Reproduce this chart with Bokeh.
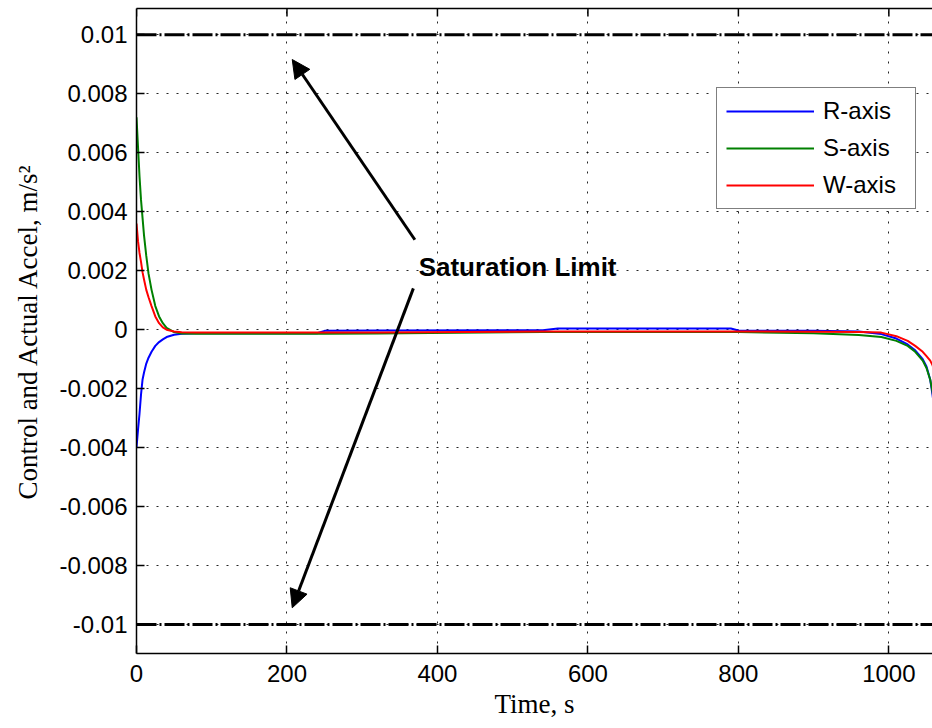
from bokeh.plotting import figure
from bokeh.models import (Range1d, FixedTicker, LinearAxis, Span, Arrow,
                          NormalHead, Label, Legend, LegendItem, ColumnDataSource)
from bokeh.embed import file_html
from bokeh.resources import INLINE

# Time samples (s) and accelerations (m/s^2) for each axis
time_s = [0, 2, 4, 6, 8, 10, 13, 16, 20, 25, 30, 35, 40, 50, 60, 80, 150, 240,
          250, 320, 540, 560, 790, 800, 900, 960, 990, 1010, 1025, 1035, 1045,
          1050, 1055, 1058, 1062]
r_axis = [-0.0040, -0.0034, -0.00285, -0.0022, -0.0017, -0.00145, -0.00115,
          -0.00095, -0.00075, -0.00055, -0.00042, -0.00033, -0.00025, -0.00017,
          -0.00014, -0.00012, -0.00012, -0.00012, -0.00004, -0.00003, -0.00002,
          0.00004, 0.00004, -0.00003, -0.00004, -0.00006, -0.00015, -0.0003,
          -0.0005, -0.0007, -0.0010, -0.00125, -0.0017, -0.0022, -0.0030]
s_axis = [0.0072, 0.0062, 0.0052, 0.0044, 0.0038, 0.0032, 0.0025, 0.0019,
          0.00135, 0.0008, 0.00045, 0.00022, 0.00006, -0.00008, -0.00013,
          -0.00014, -0.00014, -0.00014, -0.00014, -0.00013, -0.00008, -0.00008,
          -0.00008, -0.00008, -0.00012, -0.00018, -0.00025, -0.00038, -0.00055,
          -0.00075, -0.00105, -0.0013, -0.0017, -0.0021, -0.0028]
w_axis = [0.0036, 0.0030, 0.0026, 0.0023, 0.00195, 0.0017, 0.00135, 0.0011,
          0.0008, 0.00045, 0.00022, 0.00008, 0.0, -0.00006, -0.00009, -0.0001,
          -0.0001, -0.0001, -0.0001, -0.0001, -0.00006, -0.00006, -0.00006,
          -0.00006, -0.00007, -0.00008, -0.0001, -0.00022, -0.00038, -0.00055,
          -0.00075, -0.0009, -0.00105, -0.0012, -0.0015]

series_names = ["R-axis", "S-axis", "W-axis"]
series_colors = ["#0000ff", "#008000", "#ff0000"]

saturation_limit = 0.01

x_ticks = [0, 200, 400, 600, 800, 1000]
y_ticks = [-0.01, -0.008, -0.006, -0.004, -0.002, 0.0,
           0.002, 0.004, 0.006, 0.008, 0.01]
y_tick_labels = ["-0.01", "-0.008", "-0.006", "-0.004", "-0.002", "0",
                 "0.002", "0.004", "0.006", "0.008", "0.01"]

# Annotation: arrows from the label to both limits
note_text = "Saturation Limit"
note_pos = (375, 0.00211)
arrow_tails = [(370, 0.00305), (368, 0.00140)]
arrow_heads = [(207, 0.00916), (207, -0.00943)]

x_lo, x_hi = 0, 1058
y_lo, y_hi = -0.01098, 0.01089
frame_h_px = 645
tick_len_px = 8

source = ColumnDataSource(dict(t=time_s, r=r_axis, s=s_axis, w=w_axis))

p = figure(width=932, height=728, output_backend="svg", toolbar_location=None,
           x_range=Range1d(x_lo, x_hi), y_range=Range1d(y_lo, y_hi),
           min_border_left=136, min_border_right=0, min_border_top=8,
           min_border_bottom=75, background_fill_color="white",
           border_fill_color="white", outline_line_color=None)

sans = "Liberation Sans"
serif = "Liberation Serif"

for ax in (p.xaxis[0], p.yaxis[0]):
    ax.axis_line_color = "black"
    ax.axis_line_width = 1.5
    ax.major_tick_line_color = "black"
    ax.major_tick_line_width = 1.5
    ax.major_tick_in = tick_len_px
    ax.major_tick_out = 0
    ax.minor_tick_line_color = None
    ax.major_label_text_font = sans
    ax.major_label_text_font_size = "24px"
    ax.major_label_text_color = "black"
    ax.axis_label_text_font = serif
    ax.axis_label_text_font_size = "27px"
    ax.axis_label_text_font_style = "normal"
    ax.axis_label_text_color = "black"

p.xaxis.ticker = FixedTicker(ticks=x_ticks)
p.yaxis.ticker = FixedTicker(ticks=y_ticks)
p.yaxis.major_label_overrides = dict(zip(y_ticks, y_tick_labels))
p.xaxis.major_label_standoff = 11
p.yaxis.major_label_standoff = 9
p.xaxis.axis_label = "Time, s"
p.yaxis.axis_label = "Control and Actual Accel, m/s\u00b2"
p.xaxis.axis_label_standoff = 4
p.yaxis.axis_label_standoff = 13

# Top frame edge (line only) plus its inward tick marks
top_axis = LinearAxis(ticker=FixedTicker(ticks=[]), axis_line_color="black",
                      axis_line_width=1.5, major_tick_line_color=None,
                      minor_tick_line_color=None, major_label_standoff=0)
p.add_layout(top_axis, "above")
tick_len = (y_hi - y_lo) / frame_h_px * tick_len_px
p.segment(x0=x_ticks, x1=x_ticks, y0=[y_hi] * len(x_ticks),
          y1=[y_hi - tick_len] * len(x_ticks), line_color="black", line_width=1.5)

for g in (p.xgrid[0], p.ygrid[0]):
    g.grid_line_color = "black"
    g.grid_line_alpha = 0.85
    g.grid_line_width = 1
    g.grid_line_dash = "2 8"
p.xgrid.ticker = FixedTicker(ticks=x_ticks)
p.ygrid.ticker = FixedTicker(ticks=y_ticks)

# Saturation limits
for level in (saturation_limit, -saturation_limit):
    p.add_layout(Span(location=level, dimension="width", line_color="black",
                      line_width=3, line_dash="20 3 2 3"))

renderers = []
for col, color in zip(["r", "s", "w"], series_colors):
    renderers.append(p.line("t", col, source=source, line_color=color, line_width=2))

legend = Legend(items=[LegendItem(label=n, renderers=[r])
                       for n, r in zip(series_names, renderers)],
                location=(580, 444), padding=9, spacing=9, glyph_width=88,
                glyph_height=16, label_height=16, label_width=83, label_standoff=9,
                label_text_font=sans, label_text_font_size="24px",
                label_text_color="black", border_line_color="black",
                border_line_width=1.5, background_fill_color="white",
                background_fill_alpha=1.0, margin=0)
p.add_layout(legend)

for (x0, y0), (x1, y1) in zip(arrow_tails, arrow_heads):
    p.add_layout(Arrow(x_start=x0, y_start=y0, x_end=x1, y_end=y1,
                       line_color="black", line_width=3,
                       end=NormalHead(size=18, fill_color="black",
                                      line_color="black", line_width=1)))

p.add_layout(Label(x=note_pos[0], y=note_pos[1], text=note_text,
                   text_font=sans, text_font_size="26px",
                   text_font_style="bold", text_color="black",
                   text_baseline="alphabetic", text_align="left"))

open("out.html", "w").write(file_html(p, INLINE))
